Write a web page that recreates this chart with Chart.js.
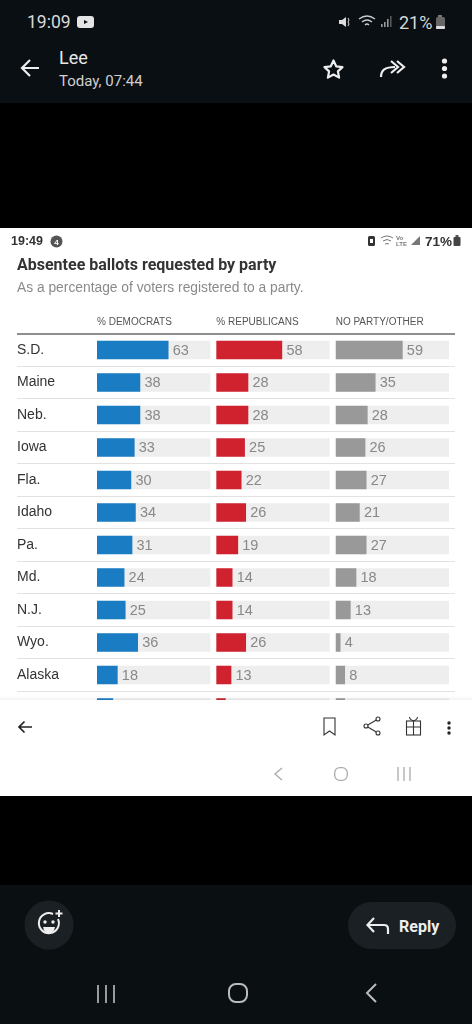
<!DOCTYPE html>
<html><head><meta charset="utf-8">
<script src="https://cdn.jsdelivr.net/npm/chart.js@4"></script>
<style>
html,body{margin:0;padding:0;background:#000;overflow:hidden}
#page{position:relative;width:472px;height:1024px;background:#000;font-family:"Liberation Sans",Arial,sans-serif;overflow:hidden}
.a{position:absolute;white-space:nowrap;line-height:1}
.r{font-family:Roboto,sans-serif}
svg{position:absolute;overflow:visible}
#top{position:absolute;left:0;top:0;width:472px;height:103px;background:#0a0f14}
#shot{position:absolute;left:0;top:228px;width:472px;height:568px;background:#fff}
#foot{position:absolute;left:0;top:472px;width:472px;height:96px;background:#fff;box-shadow:0 -2px 3px rgba(0,0,0,.05);z-index:3}
#bot{position:absolute;left:0;top:885px;width:472px;height:139px;background:#0a0f12}
canvas{position:absolute;left:0;top:0}
</style></head><body>
<div id="page">
<div id="top">
<div class="a r" style="left:27px;top:14px;font-size:17.5px;color:#d8d8d8">19:09</div>
<svg style="left:77px;top:16px" width="17" height="12"><rect width="17" height="12" rx="3" fill="#e4e4e4"/><path d="M7 4l4 2-4 2z" fill="#0a0f14"/></svg>
<svg style="left:338px;top:15px" width="14" height="14"><path d="M1 5h3l4-3v10l-4-3H1z" fill="#ddd"/><path d="M10 3l1 2-1 2 1 2-1 2" stroke="#ddd" fill="none"/></svg>
<svg style="left:358px;top:14px" width="20" height="15" fill="none" stroke="#ccc" stroke-width="1.3"><path d="M1 5q8-6 16 0M4 8q5-4 10 0M7 11q2-2 4 0"/></svg>
<svg style="left:381px;top:16px" width="12" height="12" fill="#999"><rect x="0" y="8" width="1.6" height="3"/><rect x="3" y="6" width="1.6" height="5"/><rect x="6" y="3" width="1.6" height="8"/><rect x="9" y="0" width="1.6" height="11" fill="#555"/></svg>
<div class="a r" style="left:399px;top:14px;font-size:18px;color:#d8d8d8">21%</div>
<svg style="left:435px;top:15px" width="11" height="15"><rect x="3" y="0" width="4" height="2" fill="#777"/><rect x="1" y="2" width="9" height="12" rx="1.5" fill="#666"/><rect x="1" y="11" width="9" height="3" rx="1" fill="#ddd"/></svg>
<svg style="left:20px;top:58px" width="20" height="20" fill="none" stroke="#eee" stroke-width="2.2"><path d="M19 10H2M10 2l-8 8 8 8"/></svg>
<div class="a r" style="left:59px;top:49px;font-size:18px;color:#e8e8e8">Lee</div>
<div class="a r" style="left:59px;top:74px;font-size:15px;color:#d0d0d0">Today, 07:44</div>
<svg style="left:323px;top:59px" width="21" height="20" fill="none" stroke="#eee" stroke-width="2.2" stroke-linejoin="round"><path d="M10.5 1.5l2.7 5.8 6.3.8-4.6 4.3 1.2 6.2-5.6-3.1-5.6 3.1 1.2-6.2L1.5 8.1l6.3-.8z"/></svg>
<svg style="left:380px;top:59px" width="25" height="19" fill="none" stroke="#eee" stroke-width="2.2"><path d="M1 18c0-7 4-10 14-10M11 2l7 6-7 6M17 2l7 6-7 6"/></svg>
<svg style="left:441px;top:58px" width="7" height="21" fill="#eee"><circle cx="3.5" cy="3" r="2.6"/><circle cx="3.5" cy="10.5" r="2.6"/><circle cx="3.5" cy="18" r="2.6"/></svg>
</div>

<div id="shot">
<canvas id="chart" width="472" height="568"></canvas>
<div class="a" style="left:11px;top:7px;font-size:12.5px;font-weight:bold;color:#333;z-index:2">19:49</div>
<svg style="left:50px;top:7px;z-index:2" width="13" height="13"><circle cx="6.5" cy="6.5" r="6" fill="#555"/><text x="6.5" y="9.5" font-size="8" font-weight="bold" fill="#fff" text-anchor="middle" font-family="Liberation Sans">4</text></svg>
<svg style="left:367px;top:7px;z-index:2" width="9" height="12"><rect x="1" y="1" width="7" height="10" rx="1.5" fill="#333"/><rect x="3" y="4" width="3" height="4" fill="#fff"/></svg>
<svg style="left:380px;top:7px;z-index:2" width="14" height="11" fill="none" stroke="#777" stroke-width="1"><path d="M1 3q6-4 12 0M3 6q4-3 8 0M5 9q2-1 4 0"/></svg>
<div class="a" style="left:396px;top:7px;font-size:6px;font-weight:bold;line-height:6px;color:#777;white-space:normal;width:12px;z-index:2">Vo<br>LTE</div>
<svg style="left:411px;top:8px;z-index:2" width="10" height="10" fill="#777"><path d="M0 9L9 0v9z"/></svg>
<div class="a" style="left:425px;top:7px;font-size:13.5px;font-weight:bold;color:#333;z-index:2">71%</div>
<svg style="left:453px;top:7px;z-index:2" width="8" height="12"><rect x="2.5" y="0" width="3" height="2" fill="#555"/><rect x="0.5" y="2" width="7" height="9" rx="1" fill="#444"/></svg>
<div class="a r" id="title" style="left:17px;top:29px;font-size:16px;font-weight:700;color:#333">Absentee ballots requested by party</div>
<div class="a" style="left:17px;top:53px;font-size:13.8px;color:#8a8a8a">As a percentage of voters registered to a party.</div>
<div id="foot">
<svg style="left:18px;top:20px" width="14" height="14" fill="none" stroke="#222" stroke-width="1.7"><path d="M14 7H1M6.5 1.5L1 7l5.5 5.5"/></svg>
<svg style="left:323px;top:17px" width="13" height="19" fill="none" stroke="#333" stroke-width="1.1"><path d="M1 1h11v17l-5.5-4L1 18z"/></svg>
<svg style="left:363px;top:16px" width="17" height="20" fill="none" stroke="#333" stroke-width="1.1"><circle cx="15" cy="3" r="2"/><circle cx="3" cy="10" r="2"/><circle cx="15" cy="17" r="2"/><path d="M13.3 4L4.8 9M4.8 11l8.5 5"/></svg>
<svg style="left:406px;top:16px" width="15" height="20" fill="none" stroke="#333" stroke-width="1.1"><rect x="0.5" y="5" width="14" height="14"/><path d="M7.5 5v14M0.5 11h14M7.5 5C5 4 3.5 2 3.5 1M7.5 5C10 4 11.500 2 11.500 1"/></svg>
<svg style="left:446px;top:21px" width="5" height="14" fill="#222"><circle cx="3" cy="2" r="1.7"/><circle cx="3" cy="7" r="1.700"/><circle cx="3" cy="12" r="1.700"/></svg>
<svg style="left:274px;top:67px" width="9" height="14" fill="none" stroke="#aaa" stroke-width="1.300"><path d="M8 1L1 7l7 6"/></svg>
<svg style="left:334px;top:67px" width="14" height="14" fill="none" stroke="#aaa" stroke-width="1.300"><rect x="0.700" y="0.700" width="12.600" height="12.600" rx="5"/></svg>
<svg style="left:397px;top:67px" width="14" height="14" fill="none" stroke="#aaa" stroke-width="1.300"><path d="M1 0v14M7 0v14M13 0v14"/></svg>
</div>
</div>

<div id="bot">
<svg style="left:25px;top:16px" width="48" height="48"><circle cx="24" cy="24" r="24.500" fill="#1a2024"/><g fill="none" stroke="#eee" stroke-width="2"><path d="M33 18a10 10 0 1 1-5-5"/></g><path d="M18 26h12q-1 6-6 6t-6-6z" fill="#eee"/><circle cx="20" cy="21" r="1.700" fill="#eee"/><circle cx="28" cy="21" r="1.700" fill="#eee"/><path d="M34 9v7M30.500 12.500h7" stroke="#eee" stroke-width="2"/></svg>
<div style="position:absolute;left:348px;top:17px;width:108px;height:47px;border-radius:24px;background:#1a2024"></div>
<svg style="left:366px;top:32px" width="23" height="18" fill="none" stroke="#eee" stroke-width="2.200"><path d="M22 17v-5q0-4-4-4H2M8 1L1.500 8 8 15" /></svg>
<div class="a r" style="left:399px;top:34px;font-size:16px;font-weight:700;color:#eee">Reply</div>
<svg style="left:97px;top:99px" width="19" height="19" fill="none" stroke="#aaa" stroke-width="1.800"><path d="M1 1v18M9 1v18M17 1v18"/></svg>
<svg style="left:228px;top:98px" width="20" height="20" fill="none" stroke="#bbb" stroke-width="2"><rect x="1" y="1" width="18" height="18" rx="7"/></svg>
<svg style="left:365px;top:98px" width="12" height="20" fill="none" stroke="#bbb" stroke-width="2"><path d="M11 1L2 10l9 9"/></svg>
</div>
</div>
<script>
const categories = ["S.D.","Maine","Neb.","Iowa","Fla.","Idaho","Pa.","Md.","N.J.","Wyo.","Alaska",""];
const democrats   = [63,38,38,33,30,34,31,24,25,36,18,14];
const republicans = [58,28,28,25,22,26,19,14,14,26,13,8];
const other       = [59,35,28,26,27,21,27,18,13,4,8,8];
const trackValues = [100,100,100,100,100,100,100,100,100,100,100,100];
const columnTitles = ["% DEMOCRATS","% REPUBLICANS","NO PARTY/OTHER"];

const BLUE="#1a7dc4", RED="#cf222e", GRAY="#999999", TRACK="#eeeeee";
const FONT='"Liberation Sans", Arial, sans-serif';

function valueSet(data,color,axis){return {data,backgroundColor:color,xAxisID:axis,order:1,grouped:false,barThickness:18,isValue:true};}
function trackSet(axis){return {data:trackValues,backgroundColor:TRACK,xAxisID:axis,order:2,grouped:false,barThickness:18};}
function colAxis(title,weight){return {
  type:'linear',position:'top',stack:'cols',stackWeight:1,weight,min:0,max:105.6,
  grid:{display:false},border:{display:false},ticks:{display:false},
  title:{display:true,text:title,align:'start',color:'#555',font:{family:FONT,size:10},padding:{top:0,bottom:4}},
  afterFit(s){s.height=18;}
};}
const valueLabels={id:'valueLabels',afterDatasetsDraw(chart){
  const c=chart.ctx;c.save();c.font='14.5px '+FONT;c.fillStyle='#888';c.textBaseline='middle';c.textAlign='left';
  chart.data.datasets.forEach((d,i)=>{ if(!d.isValue)return;
    chart.getDatasetMeta(i).data.forEach((el,k)=>{c.fillText(String(d.data[k]),el.x+4.5,el.y+0.5);});
  });c.restore();
}};
new Chart(document.getElementById('chart'),{
  type:'bar',
  data:{labels:categories,datasets:[
    valueSet(democrats,BLUE,'x1'),valueSet(republicans,RED,'x2'),valueSet(other,GRAY,'x3'),
    trackSet('x1'),trackSet('x2'),trackSet('x3')]},
  options:{
    indexAxis:'y',responsive:false,animation:false,
    layout:{padding:{left:17,right:17,top:87.75,bottom:72.25}},
    plugins:{legend:{display:false},tooltip:{enabled:false}},
    scales:{
      x1:colAxis(columnTitles[0],3),x2:colAxis(columnTitles[1],2),x3:colAxis(columnTitles[2],1),
      y:{position:'left',
        border:{display:false},
        grid:{tickLength:80,offset:true,
          color:c=>c.index===0?'#8f8f8f':'#e2e2e2',
          tickColor:c=>c.index===0?'#8f8f8f':'#e2e2e2',
          lineWidth:c=>c.index===0?2:1,tickWidth:c=>c.index===0?2:1},
        ticks:{crossAlign:'far',padding:0,color:'#333',font:{family:FONT,size:14}},
        afterFit(s){s.width=80;}
      }
    }
  },
  plugins:[valueLabels]
});
</script>
</body></html>
